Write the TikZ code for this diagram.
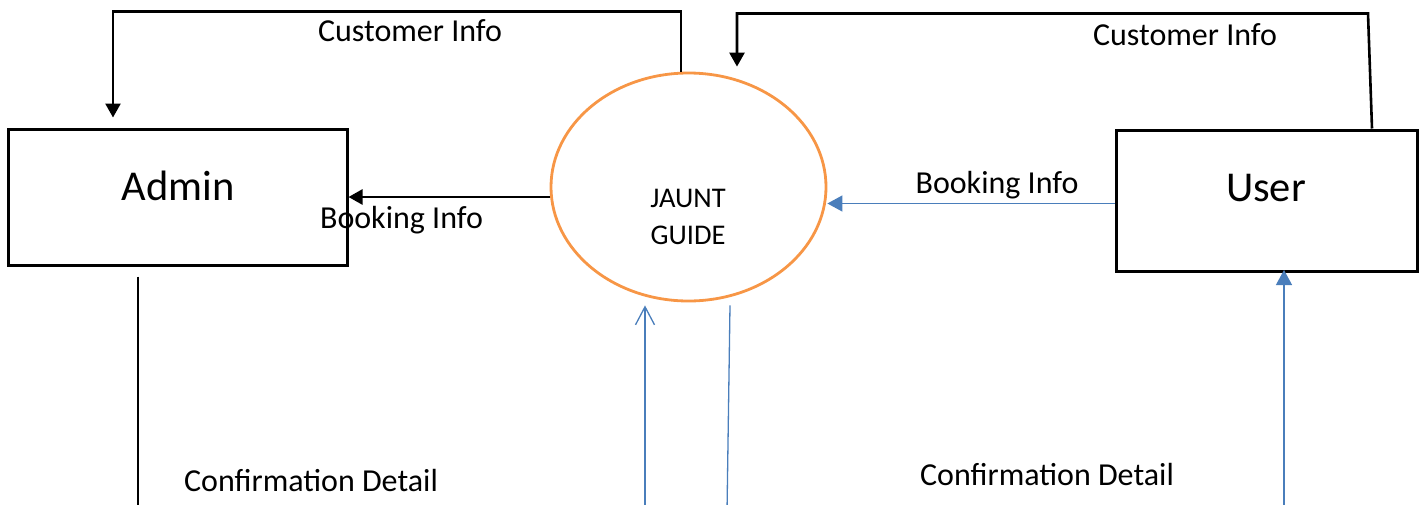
\documentclass[tikz,border=0pt]{standalone}
\usepackage{fontspec}
\setmainfont{Carlito}
\usetikzlibrary{arrows.meta,shapes.geometric}
\definecolor{lineblue}{HTML}{4A7EBB}
\definecolor{ellorange}{HTML}{F79646}
\begin{document}
\begin{tikzpicture}[x=1pt,y=-1pt,
  entity/.style={draw=black,line width=3pt,inner sep=0pt,text=black},
  process/.style={ellipse,draw=ellorange,line width=2.8pt,inner sep=0pt},
  lbl/.style={inner sep=0pt,anchor=base,font=\fontsize{32}{38}\selectfont},
  blk/.style={draw=black,line width=2.6pt},
  blkthin/.style={draw=black,line width=2pt},
  blkarrow/.style={blk,-{Triangle[length=14pt,width=15pt]}},
  blueline/.style={draw=lineblue,line width=1.3pt},
  bluearrow/.style={blueline,-{Triangle[length=15pt,width=16pt]}},
  blueopen/.style={blueline,-{Straight Barb[length=18pt,width=19pt,line width=1.3pt]}}]
\useasboundingbox (0,0) rectangle (1424,504);
% entities
\node[entity,minimum width=339pt,minimum height=136pt] (admin) at (177.5,197) {};
\node[inner sep=0pt,anchor=base,font=\fontsize{42.5}{50}\selectfont] (admintext) at (178,200) {Admin};
\node[entity,minimum width=301pt,minimum height=141pt] (user) at (1266.5,200.5) {};
\node[inner sep=0pt,anchor=base,font=\fontsize{42.5}{50}\selectfont] (usertext) at (1266,201.7) {User};
% process
\node[process,minimum width=275pt,minimum height=228pt] (jg) at (688.5,187) {};
\node[inner sep=0pt,align=center,font=\fontsize{28.5}{37.5}\selectfont] (jgtext) at (688,217) {JAUNT\\GUIDE};
% free ends at the bottom
\coordinate (b1) at (138,512);
\coordinate (b2) at (645,512);
\coordinate (b3) at (727,512);
\coordinate (b4) at (1284,512);
% Customer Info (left)
\draw[blkarrow] ([xshift=-7.5pt]jg.north) -- ++(0,-60) -| ([xshift=-64.5pt,yshift=10pt]admin.north);
% Customer Info (right)
\draw[blkarrow] ([xshift=105.5pt]user.north) -- ++(-4,-115) -| ([xshift=48.5pt,yshift=5pt]jg.north);
% Booking Info (left)
\draw[blkarrow] (jg.west |- admin.east) -- (admin.east);
% Booking Info (right)
\draw[bluearrow] ([yshift=-3pt]user.west) -- ([yshift=-3pt]user.west -| jg.east);
% Confirmation Detail (left)
\draw[blkthin] ([xshift=-39.5pt,yshift=-10pt]admin.south) -- (b1);
% lines under the process
\draw[blueopen] (b2) -- ([xshift=-43.5pt,yshift=-3pt]jg.south);
\draw[blueline] ([xshift=41.5pt,yshift=-3pt]jg.south) -- (b3);
% Confirmation Detail (right)
\draw[bluearrow] (b4) -- ([xshift=17.5pt,yshift=2.5pt]user.south);
% labels
\node[lbl] (l1) at (410,41.7) {Customer Info};
\node[lbl] (l2) at (1185,45.7) {Customer Info};
\node[lbl] (l3) at (401.5,228) {Booking Info};
\node[lbl] (l4) at (997,193) {Booking Info};
\node[lbl] (l5) at (311,491.7) {Confirmation Detail};
\node[lbl] (l6) at (1047,485) {Confirmation Detail};
\end{tikzpicture}
\end{document}
